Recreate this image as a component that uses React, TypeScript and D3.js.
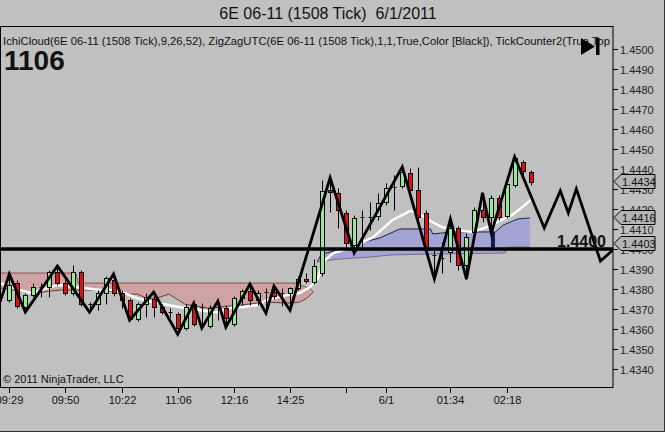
import React from "react";
import * as d3 from "d3";

const W = 665;
const H = 432;
const plot = { left: 1, top: 26, right: 613, bottom: 387 };

// OHLC for each 1508-tick bar: [open, high, low, close]
const candles: number[][] = [
  [1.43745, 1.43875, 1.43735, 1.4382],
  [1.4383, 1.43845, 1.43705, 1.43715],
  [1.4371, 1.4378, 1.43685, 1.4377],
  [1.4377, 1.4383, 1.4376, 1.4381],
  [1.4381, 1.4383, 1.4376, 1.4381],
  [1.4381, 1.43895, 1.4376, 1.43885],
  [1.43885, 1.43915, 1.4382, 1.4383],
  [1.4383, 1.43845, 1.4377, 1.4378],
  [1.4378, 1.4392, 1.4377, 1.43885],
  [1.43885, 1.43895, 1.43715, 1.43725],
  [1.43725, 1.43735, 1.43685, 1.43725],
  [1.43725, 1.43795, 1.43695, 1.4378],
  [1.4378, 1.43865, 1.43725, 1.43855],
  [1.43845, 1.43875, 1.43765, 1.4378],
  [1.4378, 1.43795, 1.43705, 1.43745],
  [1.43745, 1.43755, 1.43645, 1.4365],
  [1.4365, 1.43735, 1.4364, 1.43725],
  [1.43725, 1.4378, 1.4366, 1.4376],
  [1.4375, 1.43785, 1.4366, 1.4371],
  [1.4371, 1.43725, 1.43675, 1.43685],
  [1.43685, 1.43705, 1.4366, 1.43685],
  [1.43675, 1.43685, 1.43575, 1.43605],
  [1.43605, 1.43725, 1.43595, 1.4371],
  [1.43725, 1.4373, 1.43615, 1.43625],
  [1.4371, 1.4373, 1.43605, 1.4371],
  [1.43615, 1.4372, 1.43605, 1.43705],
  [1.4371, 1.4374, 1.43645, 1.4371],
  [1.43705, 1.4372, 1.4361, 1.43655],
  [1.43625, 1.43765, 1.43615, 1.43755],
  [1.43755, 1.438, 1.4372, 1.4379],
  [1.4379, 1.43825, 1.4372, 1.43745],
  [1.43745, 1.43795, 1.4372, 1.4378],
  [1.43785, 1.43805, 1.4368, 1.43785],
  [1.43785, 1.43815, 1.4375, 1.43765],
  [1.4378, 1.43805, 1.43715, 1.4378],
  [1.4378, 1.4381, 1.43695, 1.43805],
  [1.43805, 1.43865, 1.43795, 1.4385],
  [1.4385, 1.4388, 1.4383, 1.4384],
  [1.43835, 1.4395, 1.43825, 1.43915],
  [1.4388, 1.44345, 1.43865, 1.4429],
  [1.44295, 1.44355, 1.44185, 1.44285],
  [1.4428, 1.44305, 1.44105, 1.44195],
  [1.4418, 1.44195, 1.44005, 1.4403],
  [1.4402, 1.4417, 1.4398, 1.44155],
  [1.4416, 1.44195, 1.43995, 1.4416],
  [1.4416, 1.44235, 1.44095, 1.4416],
  [1.44165, 1.4428, 1.44145, 1.4423],
  [1.44235, 1.4433, 1.4422, 1.44305],
  [1.4431, 1.4437, 1.44195, 1.4431],
  [1.44315, 1.4441, 1.44305, 1.44385],
  [1.4438, 1.44405, 1.4427, 1.44295],
  [1.44295, 1.4441, 1.44135, 1.4416],
  [1.4418, 1.44195, 1.43985, 1.43995],
  [1.4397, 1.43995, 1.4385, 1.4397],
  [1.43955, 1.44035, 1.4388, 1.43955],
  [1.43985, 1.4415, 1.43935, 1.44105],
  [1.44105, 1.44115, 1.43895, 1.4392],
  [1.4392, 1.4408, 1.4385, 1.4406],
  [1.44085, 1.4421, 1.44045, 1.44195],
  [1.44195, 1.4428, 1.44135, 1.4416],
  [1.4416, 1.4427, 1.4408, 1.44255],
  [1.44255, 1.4427, 1.44145, 1.4416],
  [1.44165, 1.44335, 1.44155, 1.44325],
  [1.4432, 1.4447, 1.4431, 1.44455],
  [1.44435, 1.44445, 1.44355, 1.4439],
  [1.44385, 1.44395, 1.4432, 1.44335],
];

// zigzag swing points: [bar index, price]
const zigzag: number[][] = [
  [-1.16, 1.43735], [0, 1.43875], [2, 1.43685], [6, 1.43915], [10, 1.43685],
  [13, 1.43875], [15, 1.43645], [18, 1.43785], [21, 1.43575], [23, 1.4373],
  [24, 1.43605], [26, 1.4374], [27, 1.4361], [30, 1.43825], [32, 1.4368],
  [33, 1.43815], [35, 1.43695], [40, 1.44355], [43, 1.4398], [49, 1.4441],
  [53, 1.4385], [55, 1.4415], [57, 1.4385], [59, 1.4428], [60.1, 1.4408],
  [63, 1.4446], [66.7, 1.44105], [68.7, 1.4429], [69.7, 1.4418], [70.7, 1.443],
  [73.7, 1.4394], [75.7, 1.4401],
];

// white base line
const baseLine: number[][] = [
  [-1.03, 1.4383], [-0.5, 1.4382], [1.3, 1.43795], [3, 1.4378], [4.2, 1.438],
  [6, 1.4382], [7.2, 1.43815], [9.2, 1.43805], [11.3, 1.43795], [12.9, 1.43795],
  [14.4, 1.4378], [15.9, 1.43755], [17.9, 1.43735], [21.3, 1.4371], [23.8, 1.43695],
  [25.9, 1.43685], [27.9, 1.4371], [29.1, 1.4371], [30.9, 1.4372], [32.1, 1.43745],
  [34.6, 1.4377], [36.2, 1.4378], [37.5, 1.4381], [38.5, 1.43855], [39.1, 1.43935],
  [40.4, 1.4398], [42.9, 1.4401], [45.4, 1.4406], [47.8, 1.44145], [50, 1.4419],
  [50.9, 1.4418], [52.7, 1.44135], [53.9, 1.4411], [55.6, 1.44095], [57.7, 1.44085],
  [59.3, 1.44105], [60.9, 1.44135], [62.7, 1.4417], [64.3, 1.4422], [65, 1.44245],
];

// bearish cloud (span B on top, span A below)
const redSpanB: number[][] = [
  [-1.03, 1.4388], [8.3, 1.4388], [8.6, 1.4383], [35.9, 1.4383], [36.6, 1.43815],
  [37.5, 1.43805], [37.9, 1.43785],
];
const redSpanA: number[][] = [
  [-1.03, 1.43805], [1.3, 1.4379], [3, 1.4378], [6.3, 1.43795], [11.3, 1.43795],
  [14.7, 1.43775], [16, 1.43775], [17.3, 1.4375], [18.8, 1.4376], [19.9, 1.43775],
  [20.9, 1.4375], [21.9, 1.43725], [24.7, 1.43705], [28.8, 1.4372], [31.9, 1.43735],
  [35, 1.4373], [36.2, 1.43735], [37.1, 1.43755], [37.9, 1.43785],
];

// bullish cloud
const blueSpanA: number[][] = [
  [38.4, 1.43935], [38.9, 1.43975], [41.2, 1.43995], [42.9, 1.43995], [43.7, 1.4403],
  [46.2, 1.44055], [48.7, 1.441], [52.5, 1.441], [52.8, 1.44075], [55.2, 1.44085],
  [60.6, 1.44085], [61.6, 1.4412], [63.4, 1.4415], [64.9, 1.44155],
];
const blueSpanB: number[][] = [
  [38.4, 1.43935], [38.9, 1.4394], [41.2, 1.4395], [45, 1.4396], [47.5, 1.4397],
  [52.5, 1.43975], [61.8, 1.4398], [62.2, 1.4401], [64.9, 1.4401],
];

// tick counter bar
const counterBars: number[][] = [[60.3, 1.44085, 1.43995]];

const priceTicks = [
  1.45, 1.449, 1.448, 1.447, 1.446, 1.445, 1.444, 1.443, 1.442, 1.441, 1.44,
  1.439, 1.438, 1.437, 1.436, 1.435, 1.434,
];
const priceMarkers = [1.4434, 1.4416, 1.4403];
const levelPrice = 1.44;

const timeTicks = [0, 7, 14, 21, 28, 35, 42, 47, 55, 62];
const timeLabels = ["09:29", "09:50", "10:22", "11:06", "12:16", "14:25", "", "6/1", "01:34", "02:18"];

const FONT = "Arial, 'Liberation Sans', sans-serif";

export default function App() {
  const x = d3.scaleLinear().domain([-1.035, 75.27]).range([plot.left, plot.right]);
  const y = d3.scaleLinear().domain([1.434, 1.45]).range([369.3, 48.5]);
  const line = d3
    .line<number[]>()
    .x((d) => x(d[0]))
    .y((d) => y(d[1]));
  const cloud = (top: number[][], bottom: number[][]) =>
    (line(top.concat(bottom.slice().reverse())) || "") + "Z";

  return (
    <svg
      width={W}
      height={H}
      style={{ position: "fixed", left: 0, top: 0, background: "#c0c0c0" }}
      fontFamily={FONT}
    >
      <defs>
        <clipPath id="plotClip">
          <rect x={plot.left} y={plot.top} width={plot.right - plot.left} height={plot.bottom - plot.top} />
        </clipPath>
      </defs>
      <rect x={0} y={0} width={W} height={H} fill="#c0c0c0" />

      <text x={328} y={19} textAnchor="middle" fontSize={16} fill="#111" style={{ whiteSpace: "pre" }}>
        {"6E 06-11 (1508 Tick)  6/1/2011"}
      </text>

      <g clipPath="url(#plotClip)">
        <path d={cloud(redSpanB, redSpanA)} fill="#cfa3a3" />
        <path d={line(redSpanB) || ""} fill="none" stroke="#8a5050" strokeWidth={1} />
        <path d={line(redSpanA) || ""} fill="none" stroke="#6a3a3a" strokeWidth={1} />
        <path d={cloud(blueSpanA, blueSpanB)} fill="#a3a3d4" />
        <path d={line(blueSpanA) || ""} fill="none" stroke="#20204a" strokeWidth={1} />
        <path d={line(blueSpanB) || ""} fill="none" stroke="#70708a" strokeWidth={1} />
        <path d={line(baseLine) || ""} fill="none" stroke="#ffffff" strokeWidth={2.5} />

        {candles.map((d, i) => {
          const [o, h, l, c] = d;
          const cx = Math.round(x(i)) + 0.5;
          const top = Math.round(y(Math.max(o, c))) + 0.5;
          const bot = Math.round(y(Math.min(o, c))) + 0.5;
          const fill = c > o ? "#90ee90" : c < o ? "#e01010" : "none";
          return (
            <g key={i}>
              <line x1={cx} x2={cx} y1={Math.round(y(h)) + 0.5} y2={Math.round(y(l)) + 0.5} stroke="#000" />
              {bot - top >= 1 ? (
                <rect x={cx - 2} y={top} width={4} height={bot - top} fill={fill} stroke="#000" />
              ) : (
                <line x1={cx - 2} x2={cx + 2} y1={top} y2={top} stroke="#000" />
              )}
            </g>
          );
        })}

        {counterBars.map((d, i) => (
          <rect key={i} x={x(d[0]) - 2} y={y(d[1])} width={4} height={y(d[2]) - y(d[1])} fill="#141450" />
        ))}

        <path d={line(zigzag) || ""} fill="none" stroke="#000" strokeWidth={2.8} strokeLinejoin="miter" />

        <line x1={plot.left} x2={plot.right} y1={y(levelPrice)} y2={y(levelPrice)} stroke="#000" strokeWidth={3.5} />
        <text x={606} y={y(levelPrice) - 2} textAnchor="end" fontSize={16} fontWeight="bold" fill="#111">
          {levelPrice.toFixed(4)}
        </text>

        <text x={3} y={45} fontSize={10.5} fill="#111" textLength={607} lengthAdjust="spacingAndGlyphs">
          IchiCloud(6E 06-11 (1508 Tick),9,26,52), ZigZagUTC(6E 06-11 (1508 Tick),1,1,True,Color [Black]), TickCounter2(True,Top
        </text>
        <text x={4} y={70} fontSize={28} fontWeight="bold" fill="#111">
          1106
        </text>
        <text x={3} y={383} fontSize={11} fill="#111">
          © 2011 NinjaTrader, LLC
        </text>
      </g>

      {/* go-to-last-bar icon */}
      <path d="M581,38 L595,46.5 L581,55 Z" fill="#000" />
      <rect x={596} y={38} width={3.5} height={17} fill="#000" />

      <rect
        x={plot.left - 0.5}
        y={plot.top + 0.5}
        width={plot.right - plot.left + 0.5}
        height={plot.bottom - plot.top}
        fill="none"
        stroke="#000"
      />

      {priceTicks.map((p) => (
        <g key={p} transform={`translate(0,${Math.round(y(p)) + 0.5})`}>
          <line x1={plot.right} x2={plot.right + 5} stroke="#000" />
          <text x={plot.right + 7} y={4} fontSize={11} fill="#222">
            {p.toFixed(4)}
          </text>
        </g>
      ))}

      {priceMarkers.map((p) => {
        const cy = Math.round(y(p)) + 0.5;
        return (
          <g key={p} transform={`translate(0,${cy})`}>
            <path
              d={`M${plot.right + 1},0 L${plot.right + 8},-7 L${plot.right + 42},-7 L${plot.right + 42},7 L${plot.right + 8},7 Z`}
              fill="#b4b4b4"
              stroke="#000"
            />
            <text x={plot.right + 9} y={4} fontSize={11} fill="#111">
              {p.toFixed(4)}
            </text>
          </g>
        );
      })}

      {timeTicks.map((t, i) => (
        <g key={t} transform={`translate(${Math.round(x(t)) + 0.5},${plot.bottom})`}>
          <line y1={0} y2={6} stroke="#000" />
          <text y={17} textAnchor="middle" fontSize={11} fill="#111">
            {timeLabels[i]}
          </text>
        </g>
      ))}

      <line x1={0} x2={W} y1={H - 0.5} y2={H - 0.5} stroke="#333" />
      <line x1={W - 0.5} x2={W - 0.5} y1={0} y2={H} stroke="#333" />
    </svg>
  );
}
